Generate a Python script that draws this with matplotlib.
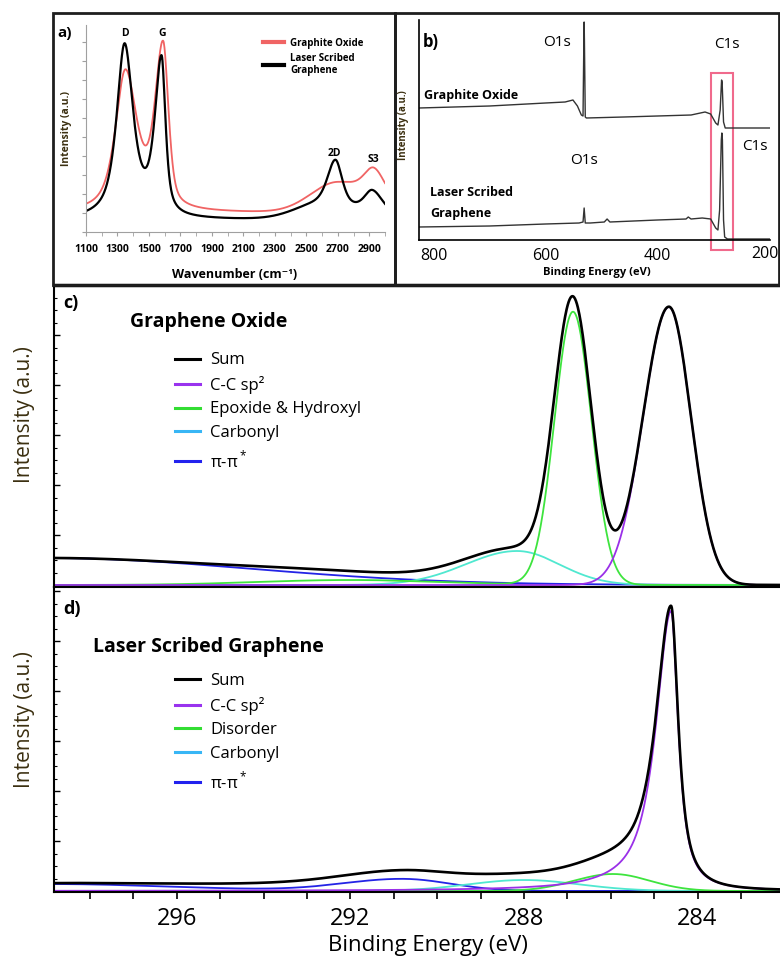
import numpy as np
import matplotlib.pyplot as plt
from matplotlib.patches import Rectangle
from matplotlib.lines import Line2D
from matplotlib.ticker import MultipleLocator

plt.rcParams['font.family'] = ['Open Sans', 'DejaVu Sans']
plt.rcParams['mathtext.fontset'] = 'custom'
plt.rcParams['mathtext.rm'] = 'Open Sans'

# ---------------- data ----------------
# peak lists: (centre, height, hwhm on low-x side, hwhm on high-x side, lorentz fraction)
# a) Raman, heights in a.u. above the axis
raman_go_base = 19
raman_go_peaks = [(1350, 139, 75, 90, 0.7), (1590, 160, 60, 40, 0.5),
                  (2700, 30, 200, 300, 0.0), (2930, 25, 70, 80, 0.3)]
raman_lsg_base = 12
raman_lsg_peaks = [(1345, 172, 60, 65, 0.8), (1580, 155, 50, 30, 0.7),
                   (2600, 15, 200, 300, 0.0), (2685, 45, 60, 50, 0.5),
                   (2920, 22, 60, 80, 0.5)]
raman_ticks = [1100, 1300, 1500, 1700, 1900, 2100, 2300, 2500, 2700, 2900]

# b) XPS survey, (binding energy, intensity)
go_be = [826, 700, 600, 565, 551, 543, 536, 533, 531.5, 531, 530.5, 529, 527,
         460, 400, 340, 315, 305, 296, 292, 288, 285.5, 284.5, 282, 279, 250, 199]
go_int = [132, 134, 137, 138, 140, 134, 125, 124, 200, 218, 200, 123, 122,
          123, 124, 125, 128, 126, 117, 115, 130, 160, 158, 118, 112, 112, 112]
lsg_be = [826, 700, 600, 540, 533, 531, 529, 520, 495, 490, 485, 400, 349, 345, 340,
          320, 305, 296, 292, 289, 286, 285, 284, 282, 280, 275, 199]
lsg_int = [13, 14, 16, 17, 18, 32, 17, 17, 18, 21, 18, 20, 21, 23, 21,
           22, 21, 12, 10, 30, 100, 107, 100, 20, 3, 1, 1]
survey_ticks = [800, 600, 400, 200]

# c) C1s graphene oxide
c_cc = [(284.66, 278, 0.60, 0.70, 0.0)]
c_epox = [(286.87, 273, 0.50, 0.50, 0.0), (292.0, 5, 2.5, 2.5, 0.0)]
c_carb = [(288.16, 34, 1.15, 1.40, 0.0)]
c_pi = [(299.0, 27, 5.5, 5.5, 0.0)]

# d) C1s laser scribed graphene
d_cc = [(284.61, 280, 0.20, 0.42, 0.9)]
d_dis = [(285.95, 17, 1.0, 1.05, 0.0)]
d_carb = [(288.0, 11, 1.5, 1.5, 0.0)]
d_pi = [(290.8, 12, 1.3, 1.6, 0.0), (299.0, 7, 3.5, 3.5, 0.0)]
d_extra = [(291.5, 7, 2.5, 4.0, 0.0)]  # part of the envelope only

be_ticks = [296, 292, 288, 284]


def profile(x, peaks):
    y = np.zeros_like(x)
    for c, h, wlo, whi, eta in peaks:
        w = np.where(x < c, wlo, whi)
        u = (x - c) / w
        y += h * (eta / (1 + u ** 2) + (1 - eta) * np.exp(-np.log(2) * u ** 2))
    return y


W, H = 780, 964
fig = plt.figure(figsize=(7.8, 9.64), dpi=100)


def px_axes(l, t, r, b):
    return fig.add_axes([l / W, 1 - b / H, (r - l) / W, (b - t) / H])


def ftext(x, y, s, **kw):
    fig.text(x / W, 1 - y / H, s, **kw)


# frames round a) and b)
for l, r in [(53, 395), (395, 779)]:
    fig.add_artist(Rectangle((l / W, 1 - 285 / H), (r - l) / W, (285 - 13) / H,
                             transform=fig.transFigure, fill=False, lw=2, ec='#1e1e1e'))

# ---------------- a) Raman ----------------
ax_a = px_axes(86, 25, 385, 232)
wn = np.linspace(1100, 3000, 900)
ax_a.plot(wn, raman_go_base + profile(wn, raman_go_peaks), color='#f06464', lw=1.3,
          label='Graphite Oxide')
ax_a.plot(wn, raman_lsg_base + profile(wn, raman_lsg_peaks), color='black', lw=1.6,
          label='Laser Scribed\nGraphene')
ax_a.set_xlim(1100, 3000)
ax_a.set_ylim(0, 207)
ax_a.set_xticks(raman_ticks)
ax_a.xaxis.set_minor_locator(MultipleLocator(100))
ax_a.yaxis.set_major_locator(MultipleLocator(19))
ax_a.set_yticklabels([])
for s in ['top', 'right']:
    ax_a.spines[s].set_visible(False)
for s in ['left', 'bottom']:
    ax_a.spines[s].set_color('#a0a0a0')
ax_a.tick_params(which='both', color='#a0a0a0', length=3, labelsize=7.5)
for t in ax_a.get_xticklabels():
    t.set_fontweight('bold')
ax_a.tick_params(axis='x', pad=6)
ax_a.text(1345, 199, 'D', ha='center', va='center', fontsize=7.5, fontweight='bold')
ax_a.text(1585, 199, 'G', ha='center', va='center', fontsize=7.5, fontweight='bold')
ax_a.text(2680, 79, '2D', ha='center', va='center', fontsize=7.5, fontweight='bold')
ax_a.text(2925, 72, 'S3', ha='center', va='center', fontsize=7.5, fontweight='bold')
leg = ax_a.legend(loc='upper left', bbox_to_anchor=(258 / W, 1 - 33 / H),
                  bbox_transform=fig.transFigure, frameon=False, borderpad=0,
                  handlelength=2.2, handletextpad=0.6, labelspacing=0.4,
                  prop={'weight': 'bold', 'size': 7})
for ln in leg.get_lines():
    ln.set_linewidth(3)
ftext(57, 33, 'a)', fontsize=11, fontweight='bold', va='center')
ftext(235, 275, 'Wavenumber (cm⁻¹)', fontsize=9, fontweight='bold', ha='center', va='center')
ftext(67, 128, 'Intensity (a.u.)', fontsize=7.5, fontweight='bold', rotation=90,
      ha='center', va='center', color='#3b2f10')

# ---------------- b) survey ----------------
ax_b = px_axes(419, 20, 770, 240)
ax_b.plot(go_be, go_int, color='#333333', lw=1)
ax_b.plot(lsg_be, lsg_int, color='#333333', lw=1)
ax_b.set_xlim(826, 199)
ax_b.set_ylim(0, 220)
ax_b.set_xticks(survey_ticks)
# last label sits at the figure edge: right-align it so it stays inside
ax_b.set_xticklabels([str(v) for v in survey_ticks[:-1]] + [''])
ftext(779, 254, str(survey_ticks[-1]), fontsize=11.5, ha='right', va='center')
ax_b.set_yticks([])
ax_b.tick_params(axis='x', length=0, labelsize=11.5, pad=6)
for s in ['top', 'right']:
    ax_b.spines[s].set_visible(False)
for s in ['left', 'bottom']:
    ax_b.spines[s].set_linewidth(1.2)
ax_b.add_patch(Rectangle((264.5, -10), 39.5, 177, fill=False, ec='#f06a8c', lw=1.5,
                         clip_on=False))
ftext(423, 42, 'b)', fontsize=12, fontweight='bold', va='center')
ftext(557, 43, 'O1s', fontsize=11, ha='center', va='center')
ftext(727, 45, 'C1s', fontsize=11, ha='center', va='center')
ftext(424, 95, 'Graphite Oxide', fontsize=9, fontweight='bold', va='center')
ftext(584, 160, 'O1s', fontsize=11, ha='center', va='center')
ftext(755, 147, 'C1s', fontsize=11, ha='center', va='center')
ftext(430, 193, 'Laser Scribed', fontsize=9, fontweight='bold', va='center')
ftext(430, 213, 'Graphene', fontsize=9, fontweight='bold', va='center')
ftext(597, 273, 'Binding Energy (eV)', fontsize=8, fontweight='bold', ha='center', va='center')
ftext(403, 125, 'Intensity (a.u.)', fontsize=7, fontweight='bold', rotation=90,
      ha='center', va='center', color='#3b2f10')

# ---------------- c) and d) C1s ----------------
be = np.linspace(282.0, 298.9, 1500)
col_sum, col_cc, col_gr, col_cb, col_pi = 'black', '#9a30e8', '#3ee43e', '#50e8d0', '#2424e6'
leg_cols = ['black', '#9933ee', '#33dd33', '#38b6f5', '#2222ee']

ax_c = px_axes(54, 285, 780, 587)
ax_d = px_axes(54, 587, 780, 892)

panels = [
    (ax_c, [c_cc, c_epox, c_carb, c_pi], [], (-2, 300), 'Graphene Oxide',
     ['Sum', 'C-C sp²', 'Epoxide & Hydroxyl', 'Carbonyl', 'π-π$^*$'], 303, 322, 344),
    (ax_d, [d_cc, d_dis, d_carb, d_pi], d_extra, (-1, 304), 'Laser Scribed Graphene',
     ['Sum', 'C-C sp²', 'Disorder', 'Carbonyl', 'π-π$^*$'], 609, 647, 665),
]
for ax, comps, extra, ylim, title, labels, ylet, ytitle, yleg in panels:
    curves = [profile(be, p) for p in comps]
    total = sum(curves) + profile(be, extra)
    for yv, col in zip(curves[::-1], [col_pi, col_cb, col_gr, col_cc]):
        ax.plot(be, yv, color=col, lw=1.3)
    ax.plot(be, total, color=col_sum, lw=1.9)
    ax.set_xlim(298.83, 282.1)
    ax.set_ylim(*ylim)
    ax.set_xticks(be_ticks)
    ax.xaxis.set_minor_locator(MultipleLocator(1))
    ax.yaxis.set_major_locator(MultipleLocator(50))
    ax.yaxis.set_minor_locator(MultipleLocator(12.5))
    ax.set_yticklabels([])
    ax.tick_params(axis='x', which='both', direction='out', length=5, width=1.2, labelsize=17)
    ax.tick_params(axis='y', which='major', direction='in', length=4, width=1)
    ax.tick_params(axis='y', which='minor', direction='in', length=2, width=0.8)
    ax.spines['right'].set_visible(False)
    ax.spines['top'].set_linewidth(2.5 if ax is ax_c else 1.5)
    ax.spines['left'].set_linewidth(1.5)
    ax.spines['bottom'].set_linewidth(1.5)
    handles = [Line2D([], [], color=c, lw=2.2) for c in leg_cols]
    ax.legend(handles, labels, loc='upper left', bbox_to_anchor=(167 / W, 1 - yleg / H),
              bbox_transform=fig.transFigure, frameon=False, borderpad=0,
              handlelength=1.5, handletextpad=0.6, labelspacing=0.45, fontsize=12)
    ftext(130 if ax is ax_c else 93, ytitle, title, fontsize=14, fontweight='bold', va='center')
    ftext(63, ylet, 'c)' if ax is ax_c else 'd)', fontsize=13, fontweight='bold', va='center')
    ftext(25, 415 if ax is ax_c else 720, 'Intensity (a.u.)', fontsize=15, rotation=90,
          ha='center', va='center', color='#3b2f10')

ax_c.tick_params(axis='x', labelbottom=False)
ax_d.tick_params(axis='x', pad=6)
ftext(428, 946, 'Binding Energy (eV)', fontsize=16, ha='center', va='center')

fig.savefig('out.png', dpi=100)
